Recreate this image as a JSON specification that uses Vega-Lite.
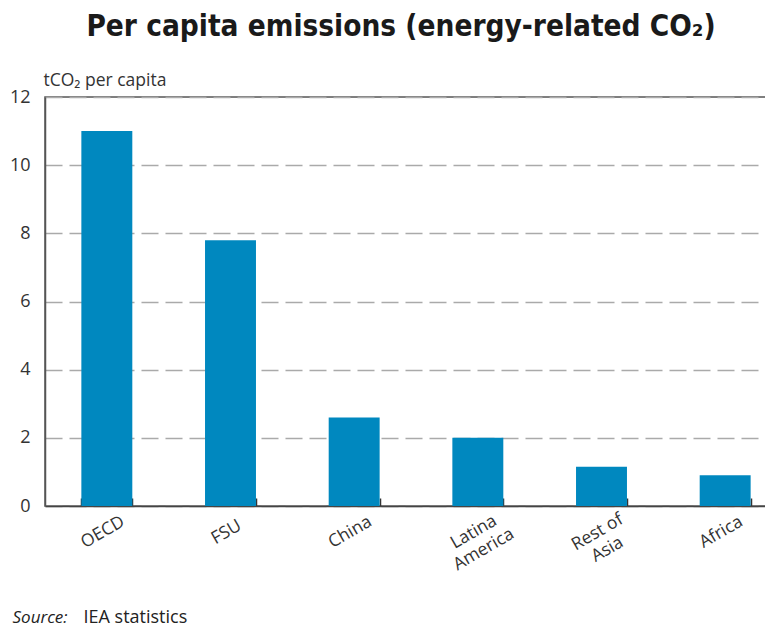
{
  "$schema": "https://vega.github.io/schema/vega-lite/v6.json",
  "autosize": {"type": "none"},
  "width": 722,
  "height": 409,
  "padding": {"left": 45, "top": 97, "right": 0, "bottom": 122},
  "background": "white",
  "title": {
    "text": "Per capita emissions (energy-related CO₂)",
    "font": "DejaVu Sans Condensed, Roboto, sans-serif",
    "fontSize": 29.5,
    "fontWeight": "bold",
    "color": "#1a1a1a",
    "anchor": "middle",
    "baseline": "alphabetic",
    "offset": 6,
    "dx": -5
  },
  "data": {
    "values": [
      {"region": "OECD", "value": 11.0},
      {"region": "FSU", "value": 7.8},
      {"region": "China", "value": 2.6},
      {"region": "Latina America", "value": 2.0},
      {"region": "Rest of Asia", "value": 1.15},
      {"region": "Africa", "value": 0.9}
    ]
  },
  "layer": [
    {
      "mark": {"type": "bar", "color": "#0088BF"},
      "encoding": {
        "x": {
          "field": "region",
          "type": "nominal",
          "sort": null,
          "scale": {"range": [0, 742], "paddingInner": 0.588, "paddingOuter": 0.294},
          "axis": {
            "title": "IEA statistics",
            "titleX": 38,
            "titleY": 116,
            "titleAlign": "left",
            "titleAnchor": null,
            "titleBaseline": "alphabetic",
            "titleFont": "Open Sans",
            "titleFontSize": 18,
            "titleFontWeight": "normal",
            "titleColor": "#222",
            "labelAngle": -30,
            "labelAlign": "center",
            "labelBaseline": "top",
            "labelOffset": -9,
            "labelPadding": 26,
            "labelFont": "Open Sans",
            "labelFontSize": 17.5,
            "labelColor": "#333",
            "labelLineHeight": 20,
            "labelExpr": "datum.value == 'Latina America' ? ['Latina', 'America'] : datum.value == 'Rest of Asia' ? ['Rest of', 'Asia'] : datum.value",
            "tickBand": "extent",
            "tickSize": -8,
            "tickColor": "#333",
            "tickWidth": 1.5,
            "domainColor": "#444",
            "domainWidth": 1.5,
            "grid": false
          }
        },
        "y": {
          "field": "value",
          "type": "quantitative",
          "scale": {"domain": [0, 12], "nice": false},
          "axis": {
            "title": "tCO₂ per capita",
            "titleAngle": 0,
            "titleAlign": "left",
            "titleBaseline": "alphabetic",
            "titleX": -2,
            "titleY": -12,
            "titleFont": "Open Sans",
            "titleFontSize": 17.5,
            "titleFontWeight": "normal",
            "titleColor": "#333",
            "values": [0, 2, 4, 6, 8, 10, 12],
            "ticks": false,
            "labelPadding": 15,
            "labelFont": "Open Sans",
            "labelFontSize": 18,
            "labelColor": "#333",
            "domainColor": "#555",
            "domainWidth": 1.5,
            "gridColor": "#aaa",
            "gridDash": [17, 7],
            "gridWidth": 1.5
          }
        }
      }
    },
    {
      "mark": {"type": "bar", "opacity": 0},
      "encoding": {
        "x": {
          "field": "region",
          "type": "nominal",
          "sort": null,
          "axis": {
            "orient": "top",
            "labels": false,
            "ticks": false,
            "domain": false,
            "grid": false,
            "title": "Source:",
            "titleX": -33,
            "titleY": 525,
            "titleAlign": "left",
            "titleAnchor": null,
            "titleBaseline": "alphabetic",
            "titleFont": "Open Sans",
            "titleFontSize": 17,
            "titleFontWeight": "normal",
            "titleFontStyle": "italic",
            "titleColor": "#222"
          }
        },
        "y": {"field": "value", "type": "quantitative"}
      }
    }
  ],
  "resolve": {"axis": {"x": "independent"}},
  "config": {"view": {"stroke": "#555", "strokeWidth": 1.5}}
}
